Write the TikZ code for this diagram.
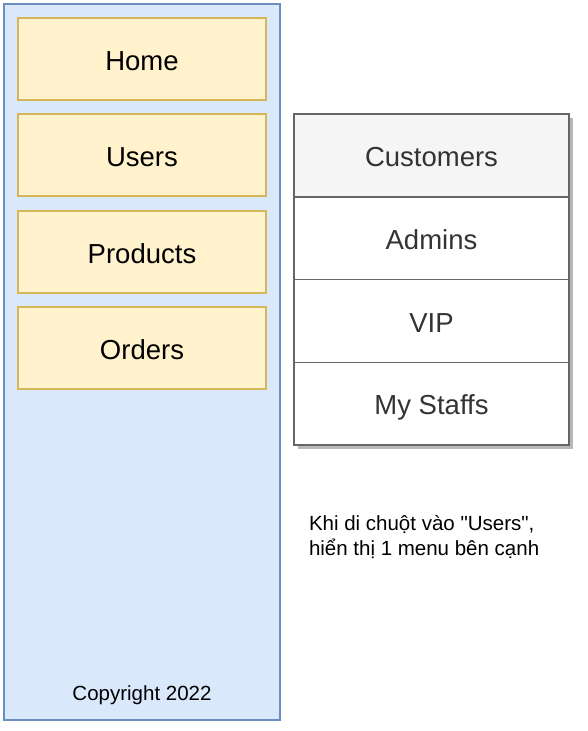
\documentclass[tikz,border=0pt]{standalone}
\usepackage{fontspec}
\setmainfont{Liberation Sans}
\usetikzlibrary{positioning, shadows}
\definecolor{sidefill}{HTML}{DAE8FC}
\definecolor{sideline}{HTML}{6C8EBF}
\definecolor{itemfill}{HTML}{FFF2CC}
\definecolor{itemline}{HTML}{D6B656}
\definecolor{subline}{HTML}{666666}
\definecolor{subtext}{HTML}{333333}
\definecolor{hoverfill}{HTML}{F5F5F5}
\definecolor{shadowgray}{HTML}{B8B8B8}

\begin{document}
\begin{tikzpicture}[x=1pt, y=-1pt,
    every node/.style={font=\fontsize{27.5}{33}\selectfont, inner sep=0pt, outer sep=0pt},
    boxtext/.style={text height=27.5pt, text depth=5.2pt},
    menuitem/.style={boxtext, draw=itemline, fill=itemfill, line width=1.3pt, minimum width=248pt, minimum height=82pt},
    subitem/.style={boxtext, draw=subline, fill=white, text=subtext, line width=1.3pt, minimum width=275pt, minimum height=82.75pt,
      drop shadow={shadow xshift=4pt, shadow yshift=-4pt, fill=shadowgray, opacity=1}},
    smalltext/.style={font=\fontsize{20.5}{25}\selectfont}]
  \useasboundingbox (0,0) rectangle (587,731);
  % Sidebar
  \node[draw=sideline, fill=sidefill, line width=1.3pt, minimum width=276pt, minimum height=716pt] (sidebar) at (142,362) {};
  \foreach \name/\label/\y in {home/Home/59, users/Users/155, products/Products/252, orders/Orders/348}{
    \node[menuitem] (\name) at (142,\y) {\label};
  }
  \node[smalltext, text height=20.5pt, text depth=5.9pt] (copyright) at (142,693) {Copyright 2022};
  % Submenu shown on hover
  \node[subitem, fill=hoverfill] (customers) at (431.5,155.5) {Customers};
  \node[subitem, below=0pt of customers] (admins) {Admins};
  \node[subitem, below=0pt of admins] (vip) {VIP};
  \node[subitem, below=0pt of vip] (staffs) {My Staffs};
  % Note
  \node[smalltext, anchor=west, align=left] (note) at (309,537)
    {Khi di chuột vào \textquotedbl Users\textquotedbl,\\hiển thị 1 menu bên cạnh};
\end{tikzpicture}
\end{document}
